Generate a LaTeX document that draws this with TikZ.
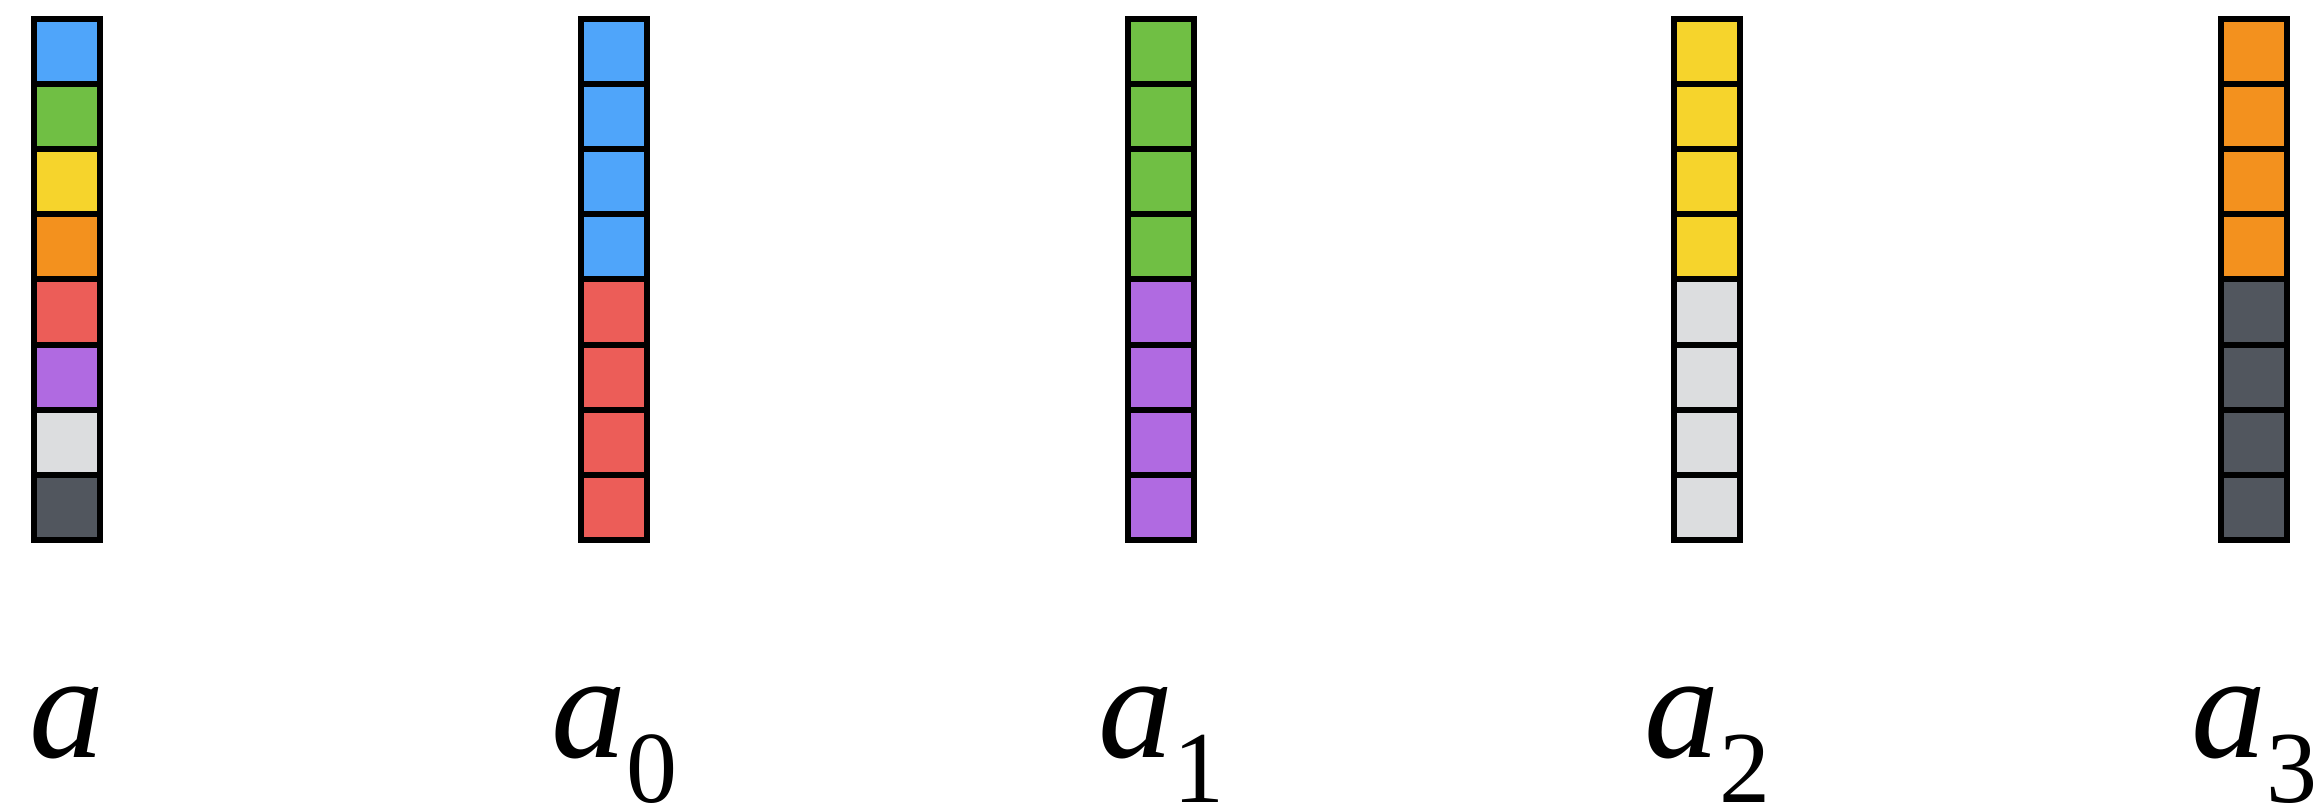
\documentclass[tikz,border=0pt]{standalone}
\usepackage{fontspec}
\setmainfont{Liberation Serif}
\definecolor{cblue}{HTML}{4FA5FA}
\definecolor{cgreen}{HTML}{70BF44}
\definecolor{cyellow}{HTML}{F6D42C}
\definecolor{corange}{HTML}{F3911E}
\definecolor{cred}{HTML}{EC5D58}
\definecolor{cpurple}{HTML}{B06AE1}
\definecolor{clight}{HTML}{DCDDDF}
\definecolor{cdark}{HTML}{51565E}
\tikzset{
  cell/.style={draw=black, line width=1.5pt, minimum width=16.5pt, minimum height=16.3pt, inner sep=0pt, outer sep=0pt},
  lbl/.style={anchor=base, inner sep=0pt, font=\fontsize{37.5pt}{40pt}\selectfont\itshape}
}
\newcommand{\sbs}[1]{\raisebox{-11.25pt}{\upshape\fontsize{25.5pt}{26pt}\selectfont #1}}
\begin{document}
\begin{tikzpicture}[x=0.25pt,y=-0.25pt]
\useasboundingbox (0,0) rectangle (2316,807);
% column a
\foreach \c [count=\i from 0] in {cblue,cgreen,cyellow,corange,cred,cpurple,clight,cdark}{
  \node[cell, fill=\c] (a-\i) at (67, {18.5+65.2*(\i+0.5)}) {};
}
\foreach \c [count=\i from 0] in {cblue,cblue,cblue,cblue,cred,cred,cred,cred}{
  \node[cell, fill=\c] (b-\i) at (614, {18.5+65.2*(\i+0.5)}) {};
}
\foreach \c [count=\i from 0] in {cgreen,cgreen,cgreen,cgreen,cpurple,cpurple,cpurple,cpurple}{
  \node[cell, fill=\c] (c-\i) at (1161, {18.5+65.2*(\i+0.5)}) {};
}
\foreach \c [count=\i from 0] in {cyellow,cyellow,cyellow,cyellow,clight,clight,clight,clight}{
  \node[cell, fill=\c] (d-\i) at (1707, {18.5+65.2*(\i+0.5)}) {};
}
\foreach \c [count=\i from 0] in {corange,corange,corange,corange,cdark,cdark,cdark,cdark}{
  \node[cell, fill=\c] (e-\i) at (2254, {18.5+65.2*(\i+0.5)}) {};
}
\node[lbl] (la) at (67,757) {a};
\node[lbl] (lb) at (614,757) {a\sbs{0}};
\node[lbl] (lc) at (1161,757) {a\sbs{1}};
\node[lbl] (ld) at (1707,757) {a\sbs{2}};
\node[lbl] (le) at (2254,757) {a\sbs{3}};
\end{tikzpicture}
\end{document}
